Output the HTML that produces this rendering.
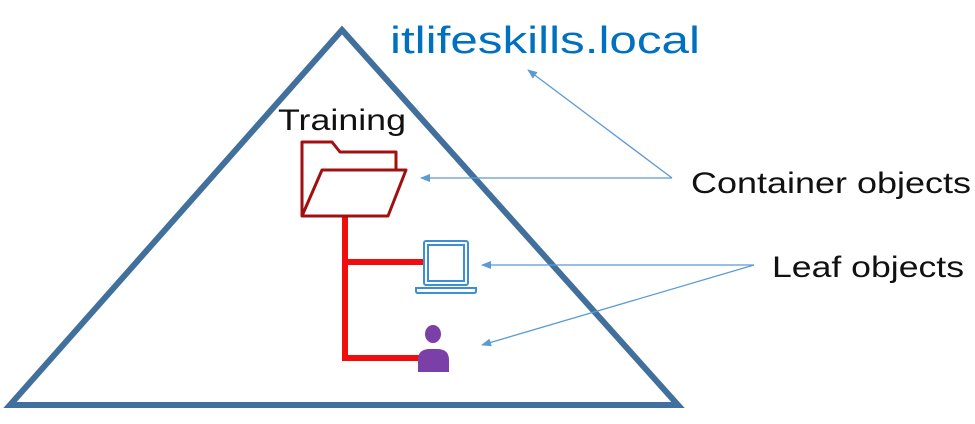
<!DOCTYPE html>
<html><head><meta charset="utf-8"><style>
html,body{margin:0;padding:0;background:#fff;}
svg{display:block;}
text{font-family:"Liberation Sans",sans-serif;}
</style></head><body>
<svg width="975" height="424" viewBox="0 0 975 424" xmlns="http://www.w3.org/2000/svg">
<defs>
<marker id="a" markerWidth="10" markerHeight="8" refX="9" refY="4" orient="auto" markerUnits="userSpaceOnUse">
<path d="M0,0 L10,4 L0,8 Z" fill="#5b9bd5"/>
</marker>
</defs>
<polygon points="342,30 10,405 678,405" fill="none" stroke="#41709c" stroke-width="6" stroke-linejoin="miter"/>
<text x="390" y="53" font-size="38" fill="#0070c0" textLength="310" lengthAdjust="spacingAndGlyphs">itlifeskills.local</text>
<text x="278" y="130" font-size="30" fill="#111" textLength="128" lengthAdjust="spacingAndGlyphs">Training</text>
<text x="691" y="193" font-size="30" fill="#111" textLength="280" lengthAdjust="spacingAndGlyphs">Container objects</text>
<text x="772" y="277" font-size="30" fill="#111" textLength="192" lengthAdjust="spacingAndGlyphs">Leaf objects</text>
<!-- red tree -->
<g stroke="#f20d0d" stroke-width="6" fill="none">
<line x1="345" y1="217" x2="345" y2="360"/>
<line x1="345" y1="262" x2="424" y2="262"/>
<line x1="342" y1="358" x2="421" y2="358"/>
</g>
<!-- folder -->
<g fill="none" stroke="#a01010" stroke-width="3" stroke-linejoin="round">
<path d="M302,216 L302,142 L332,142 L340,152 L396,152 L396,170"/>
<path d="M302,216 L322,170 L406,170 L388,216 Z"/>
</g>
<!-- laptop -->
<g fill="none" stroke="#3d8ed6" stroke-width="2">
<rect x="424" y="241" width="44" height="44" rx="2"/>
<rect x="428" y="245" width="36" height="36"/>
<path d="M416,288 L476,288 L476,291 Q476,293 474,293 L418,293 Q416,293 416,291 Z"/>
</g>
<!-- person -->
<g fill="#7b3fa8">
<ellipse cx="433" cy="334" rx="8" ry="9"/>
<path d="M418,372 L418,360 Q418,349 430,349 L437,349 Q449,349 449,360 L449,372 Z"/>
</g>
<!-- arrows -->
<g stroke="#5b9bd5" stroke-width="1.3" fill="none">
<line x1="672" y1="178" x2="421" y2="178" marker-end="url(#a)"/>
<line x1="672" y1="178" x2="528" y2="70" marker-end="url(#a)"/>
<line x1="754" y1="265" x2="482" y2="265" marker-end="url(#a)"/>
<line x1="754" y1="265" x2="482" y2="345" marker-end="url(#a)"/>
</g>
</svg>
</body></html>
